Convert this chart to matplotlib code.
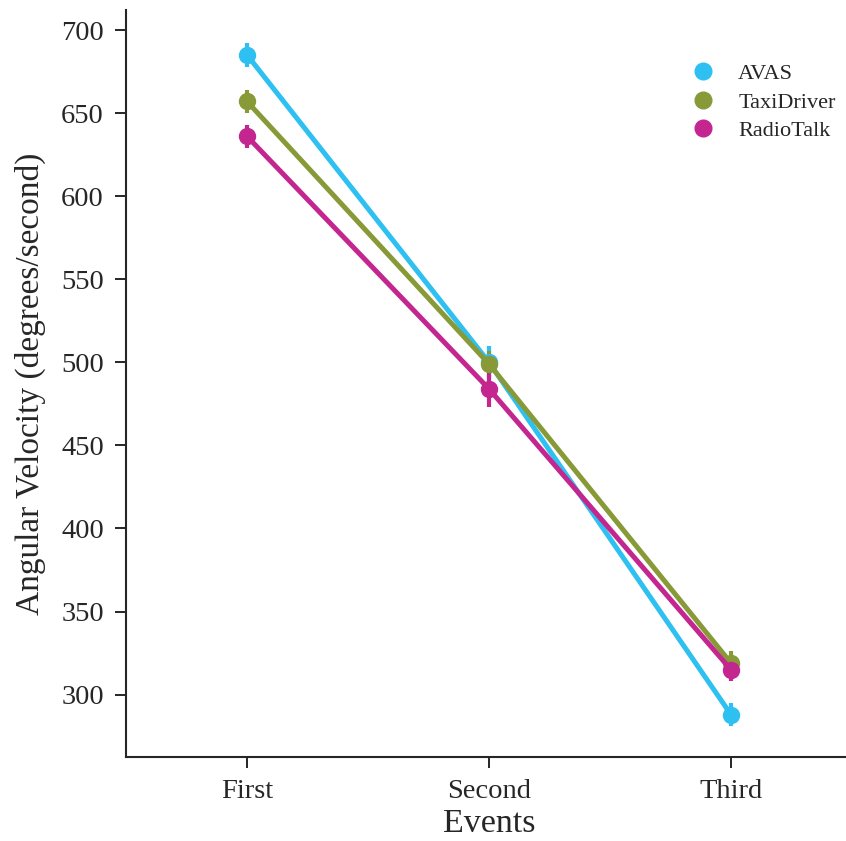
import matplotlib
matplotlib.use("Agg")
import matplotlib.pyplot as plt
from matplotlib.lines import Line2D
import numpy as np

events = ["First", "Second", "Third"]
series = ["AVAS", "TaxiDriver", "RadioTalk"]
means = {
    "AVAS": [685, 500, 288],
    "TaxiDriver": [657, 499, 319],
    "RadioTalk": [636, 484, 315],
}
errs = {
    "AVAS": [7, 10, 7],
    "TaxiDriver": [7, 8, 7],
    "RadioTalk": [7, 11, 7],
}
colors = {"AVAS": "#2ec0f0", "TaxiDriver": "#889a38", "RadioTalk": "#c4268f"}

plt.rcParams['font.family'] = ['Liberation Serif', 'DejaVu Serif']

fig = plt.figure(figsize=(8.46, 8.41), dpi=100)
ax = fig.add_axes([0.149, 0.1, 0.858, 0.888])

x = np.arange(len(events))
for s in series:
    ax.errorbar(x, means[s], yerr=errs[s], color=colors[s], lw=3.6,
                elinewidth=3.0, capsize=0, marker='o', markersize=11.5,
                label=s, zorder=3)

ax.set_xlim(-0.5, 2.5)
ax.set_ylim(262.5, 712)
ax.set_xticks(x)
ax.set_xticklabels(events)
ax.set_yticks(np.arange(300, 701, 50))
ax.tick_params(labelsize=20.5, length=8, width=1.4, direction='out', pad=8,
               color='#262626', labelcolor='#262626')
ax.set_xlabel("Events", fontsize=24.5, color='#262626', labelpad=3)
ax.set_ylabel("Angular Velocity (degrees/second)", fontsize=24, color='#262626', labelpad=11)
for side in ["top", "right"]:
    ax.spines[side].set_visible(False)
for side in ["left", "bottom"]:
    ax.spines[side].set_linewidth(1.5)
    ax.spines[side].set_color('#262626')

handles = [Line2D([], [], ls='none', marker='o', markersize=12, color=colors[s]) for s in series]
ax.legend(handles, series, loc='upper right', bbox_to_anchor=(1.005, 0.955),
          frameon=False, fontsize=16, handletextpad=0.6, labelspacing=0.35,
          labelcolor='#262626')

fig.savefig("out.png", dpi=100)
